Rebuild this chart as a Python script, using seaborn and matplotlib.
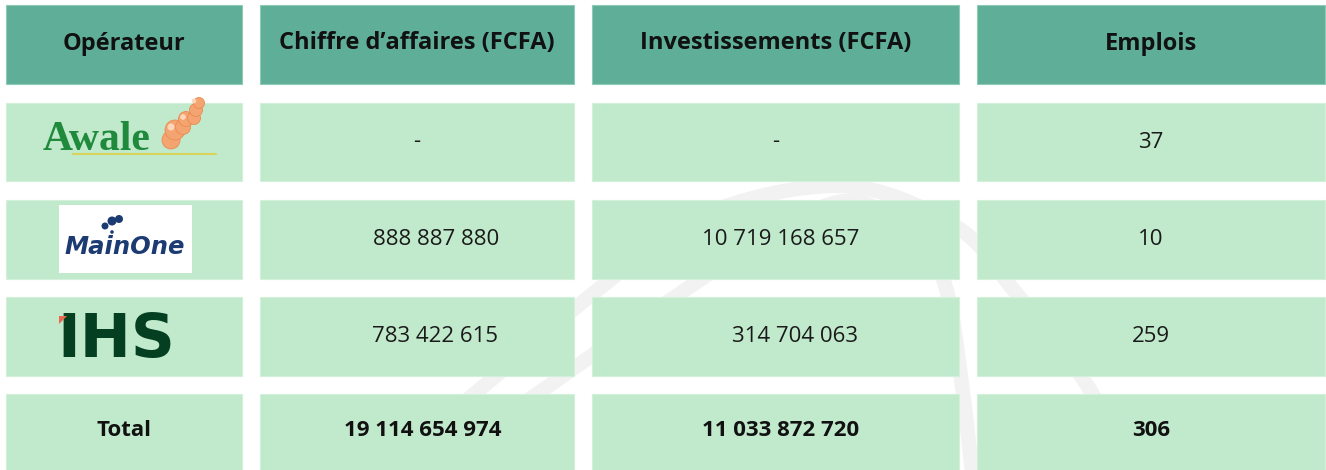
import numpy as np
import pandas as pd
import seaborn as sns
from matplotlib import pyplot as plt
from matplotlib.patches import Rectangle, Circle, Polygon

# données du tableau
headers = ['Opérateur', 'Chiffre d’affaires (FCFA)', 'Investissements (FCFA)', 'Emplois']
operateurs = ['Awale', 'MainOne', 'IHS']
chiffre_affaires = [None, 888887880, 783422615]
investissements = [None, 10719168657, 314704063]
emplois = [37, 10, 259]
total_label = 'Total'
total_chiffre = 19114654974
total_invest = 11033872720
total_emplois = 306


def fmt(v):
    if v is None:
        return '-'
    return f'{v:,}'.replace(',', ' ')


def smooth(pts, n=30):
    # courbe Catmull-Rom passant par les points (pour le filigrane)
    p = np.asarray(pts, dtype=float)
    p = np.vstack([p[0], p, p[-1]])
    out = []
    for i in range(1, len(p) - 2):
        p0, p1, p2, p3 = p[i - 1], p[i], p[i + 1], p[i + 2]
        t = np.linspace(0, 1, n)[:, None]
        out.append(0.5 * ((2 * p1) + (-p0 + p2) * t
                          + (2 * p0 - 5 * p1 + 4 * p2 - p3) * t ** 2
                          + (-p0 + 3 * p1 - 3 * p2 + p3) * t ** 3))
    return np.vstack(out)


table = pd.DataFrame({
    'ca': [fmt(v) for v in chiffre_affaires],
    'inv': [fmt(v) for v in investissements],
    'emp': [fmt(v) for v in emplois],
}, index=operateurs)

sns.set_theme(style='white')
plt.rcParams['font.family'] = ['Open Sans', 'DejaVu Sans']

fig = plt.figure(figsize=(13.26, 4.70), dpi=100)
ax = fig.add_axes([0, 0, 1, 1])
ax.set_xlim(0, 1326)
ax.set_ylim(470, 0)
ax.axis('off')

# grille : bords des colonnes et des lignes (pixels)
col_edges = [(6, 242), (260, 574), (592, 959), (977, 1325)]
row_edges = [(5, 84), (103, 181), (200, 279), (297, 376), (394, 472)]
col_c = [(a + b) / 2 for a, b in col_edges]
row_c = [(a + b) / 2 for a, b in row_edges]

head_col = '#5faf98'
cell_col = '#c1e9cc'

# filigrane gris clair derrière le tableau
wm = '#f2f2f2'
arc_in = [(429, 470), (550, 385), (688, 288), (780, 228), (853, 201),
          (918, 238), (946, 288), (962, 385), (972, 472)]
arc_out = [(384, 470), (485, 385), (600, 288), (705, 214), (845, 186),
           (955, 226), (1012, 288), (1087, 385), (1132, 472)]
for pts in (arc_in, arc_out):
    c = smooth(pts)
    ax.plot(c[:, 0], c[:, 1], color=wm, lw=10.5, solid_capstyle='butt', zorder=0)

for i, (y0, y1) in enumerate(row_edges):
    for j, (x0, x1) in enumerate(col_edges):
        fc = head_col if i == 0 else cell_col
        ec = '#8fcab5' if i == 0 else '#d3f0da'
        ax.add_patch(Rectangle((x0, y0), x1 - x0, y1 - y0, facecolor=fc,
                               edgecolor=ec, lw=0.8, zorder=1))

# en-têtes
for j, h in enumerate(headers):
    ax.text(col_c[j], row_c[0] - 1, h, ha='center', va='center',
            fontsize=17, fontweight='bold', color='#111111', zorder=3)

# valeurs
num_kw = dict(ha='center', va='center', fontsize=16, color='#1a1a1a', zorder=3)
nudge_ca = [0, 19, 18]
nudge_inv = [0, 5, 19]
for i, op in enumerate(operateurs):
    y = row_c[i + 1]
    ax.text(col_c[1] + nudge_ca[i], y, table.loc[op, 'ca'], **num_kw)
    ax.text(col_c[2] + nudge_inv[i], y, table.loc[op, 'inv'], **num_kw)
    ax.text(col_c[3], y, table.loc[op, 'emp'], **num_kw)

# ligne total
bold_kw = dict(ha='center', va='center', fontsize=16, fontweight='bold',
               color='#111111', zorder=3)
yt = row_c[4] - 3
ax.text(col_c[0], yt, total_label, **bold_kw)
ax.text(col_c[1] + 6, yt, fmt(total_chiffre), **bold_kw)
ax.text(col_c[2] + 5, yt, fmt(total_invest), **bold_kw)
ax.text(col_c[3], yt, fmt(total_emplois), **bold_kw)

# logos (approximations en texte)
# Awale
ax.text(97, 150, 'Awale', ha='center', va='baseline', fontsize=30,
        fontweight='bold', family=['Liberation Serif', 'DejaVu Serif'],
        color='#1f8a3b', zorder=3)
ax.plot([73, 216], [154, 154], color='#d8d35a', lw=1.5, zorder=3)
for (cx, cy, r) in [(171, 140, 9), (175, 130, 10), (183, 127, 7.5), (186, 119, 7.5),
                    (194, 118, 6.5), (196, 110, 6.5), (199, 103, 5.5)]:
    ax.add_patch(Circle((cx, cy), r, facecolor='#f4a470', edgecolor='#ec8a52',
                        lw=0.6, zorder=3))
for (cx, cy, r) in [(171, 127, 3.5), (183, 117, 2.8), (194, 101, 2.3)]:
    ax.add_patch(Circle((cx, cy), r, facecolor='#fbd6bb', edgecolor='none', zorder=3))

# MainOne
ax.add_patch(Rectangle((59, 205), 133, 68, facecolor='white', edgecolor='none', zorder=2))
ax.text(125, 247, 'MainOne', ha='center', va='center', fontsize=17.5,
        fontweight='bold', fontstyle='italic', family=['DejaVu Sans'],
        color='#1c3b72', zorder=3)
for (cx, cy, r) in [(105, 226, 3.5), (112, 221, 4.5), (119, 219, 4), (112, 232, 1.8)]:
    ax.add_patch(Circle((cx, cy), r, facecolor='#1c3b72', edgecolor='none', zorder=3))

# IHS
ax.text(116, 340, 'IHS', ha='center', va='center', fontsize=44,
        fontweight='heavy', family=['DejaVu Sans'], color='#043f22', zorder=3)
ax.add_patch(Polygon([[59, 316], [67, 316], [59, 324]], closed=True,
                     facecolor='#e76a4f', edgecolor='none', zorder=4))

fig.savefig('out.png', dpi=100)
